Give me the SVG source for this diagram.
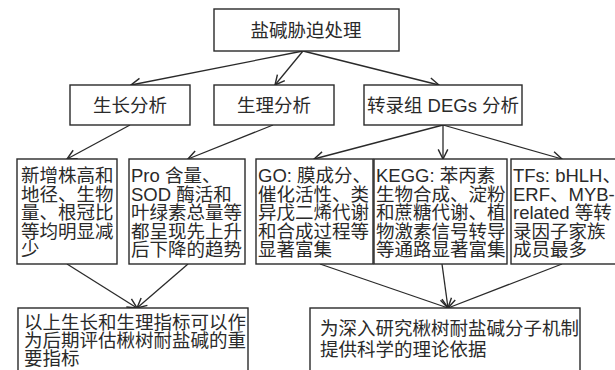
<svg xmlns="http://www.w3.org/2000/svg" width="615" height="370" viewBox="0 0 615 370">
<style>
.b{fill:#fff;stroke:#2a2a2a;stroke-width:1.4}
.t{font-family:"Liberation Sans","Noto Sans CJK SC",sans-serif;font-size:18.5px;fill:#2a2a2a}
.c{text-anchor:middle}
.e{fill:none;stroke:#2a2a2a;stroke-width:1.3;marker-end:url(#a)}
</style>
<defs>
<marker id="a" markerUnits="userSpaceOnUse" markerWidth="12" markerHeight="12" viewBox="0 0 10 10" refX="9" refY="5" orient="auto">
<path d="M1,1 L9,5 L1,9" fill="none" stroke="#2a2a2a" stroke-width="1.2"/>
</marker>
</defs>
<rect width="615" height="370" fill="#fff"/>
<g id="connectors">
<line class="e" x1="303" y1="51" x2="131" y2="85"/>
<line class="e" x1="303" y1="51" x2="275" y2="85"/>
<line class="e" x1="303" y1="51" x2="439" y2="85"/>
<line class="e" x1="130" y1="125" x2="67" y2="159"/>
<line class="e" x1="273" y1="125" x2="188" y2="159"/>
<line class="e" x1="443" y1="125" x2="314" y2="159"/>
<line class="e" x1="443" y1="125" x2="443" y2="159"/>
<line class="e" x1="443" y1="125" x2="562" y2="159"/>
<line class="e" x1="67" y1="264" x2="137" y2="308"/>
<line class="e" x1="188" y1="264" x2="137" y2="308"/>
<line class="e" x1="320" y1="264" x2="448" y2="308"/>
<line class="e" x1="442" y1="264" x2="448" y2="308"/>
<line class="e" x1="562" y1="264" x2="448" y2="308"/>
</g>
<g id="n0"><rect class="b" x="214" y="9" width="185" height="42"/><text class="t c" x="306" y="37">盐碱胁迫处理</text></g>
<g id="n1"><rect class="b" x="70" y="85" width="120" height="40"/><text class="t c" x="130" y="112">生长分析</text></g>
<g id="n2"><rect class="b" x="214" y="85" width="120" height="40"/><text class="t c" x="274" y="112">生理分析</text></g>
<g id="n3"><rect class="b" x="364" y="85" width="158" height="40"/><text class="t c" x="443" y="112">转录组 DEGs 分析</text></g>
<g id="n4"><rect class="b" x="17" y="159" width="100" height="105"/>
<text class="t" x="21"><tspan x="21" y="182">新增株高和</tspan><tspan x="21" y="200.5">地径、生物</tspan><tspan x="21" y="219">量、根冠比</tspan><tspan x="21" y="237.5">等均明显减</tspan><tspan x="21" y="256">少</tspan></text></g>
<g id="n5"><rect class="b" x="129" y="159" width="116" height="105"/>
<text class="t" x="131"><tspan x="131" y="182">Pro 含量、</tspan><tspan x="131" y="200.5">SOD 酶活和</tspan><tspan x="131" y="219">叶绿素总量等</tspan><tspan x="131" y="237.5">都呈现先上升</tspan><tspan x="131" y="256">后下降的趋势</tspan></text></g>
<g id="n6"><rect class="b" x="256" y="159" width="117" height="105"/>
<text class="t" x="258"><tspan x="258" y="182">GO: 膜成分、</tspan><tspan x="258" y="200.5">催化活性、类</tspan><tspan x="258" y="219">异戊二烯代谢</tspan><tspan x="258" y="237.5">和合成过程等</tspan><tspan x="258" y="256">显著富集</tspan></text></g>
<g id="n7"><rect class="b" x="374" y="159" width="133" height="105"/>
<text class="t" x="376"><tspan x="376" y="182">KEGG: 苯丙素</tspan><tspan x="376" y="200.5">生物合成、淀粉</tspan><tspan x="376" y="219">和蔗糖代谢、植</tspan><tspan x="376" y="237.5">物激素信号转导</tspan><tspan x="376" y="256">等通路显著富集</tspan></text></g>
<g id="n8"><rect class="b" x="511" y="159" width="110" height="105"/>
<text class="t" x="513"><tspan x="513" y="182">TFs: bHLH、</tspan><tspan x="513" y="200.5">ERF、MYB-</tspan><tspan x="513" y="219">related 等转</tspan><tspan x="513" y="237.5">录因子家族</tspan><tspan x="513" y="256">成员最多</tspan></text></g>
<g id="n9"><rect class="b" x="18" y="308" width="230" height="70"/>
<text class="t" x="24"><tspan x="24" y="329">以上生长和生理指标可以作</tspan><tspan x="24" y="347">为后期评估楸树耐盐碱的重</tspan><tspan x="24" y="365">要指标</tspan></text></g>
<g id="n10"><rect class="b" x="310" y="308" width="270" height="70"/>
<text class="t" x="320"><tspan x="320" y="335">为深入研究楸树耐盐碱分子机制</tspan><tspan x="320" y="356">提供科学的理论依据</tspan></text></g>
</svg>
